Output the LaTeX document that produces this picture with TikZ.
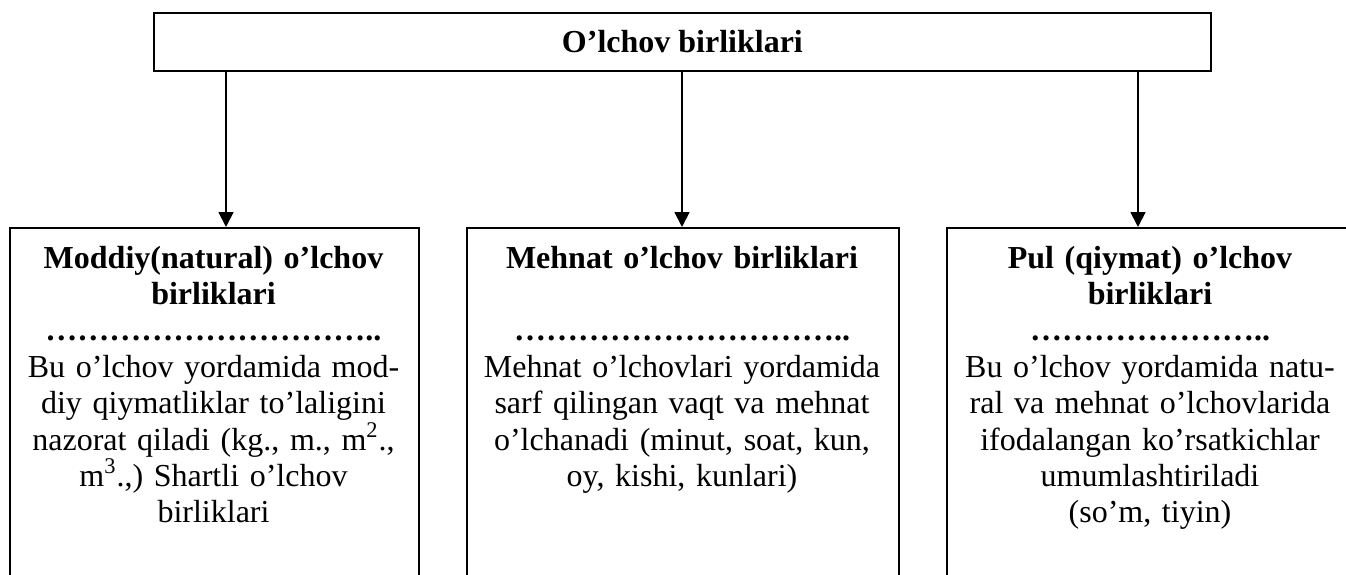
\documentclass[tikz,border=0pt]{standalone}
\usepackage{fontspec}
\setmainfont{Liberation Serif}
\usetikzlibrary{arrows.meta}

\begin{document}
\begin{tikzpicture}[x=0.5pt,y=-0.5pt,
  topbox/.style={draw, line width=0.9pt, inner sep=0pt, anchor=north west,
    font=\fontsize{16pt}{18.2pt}\selectfont\bfseries},
  unitbox/.style={draw, line width=1.2pt, inner sep=0pt, anchor=north west,
    minimum height=196.5pt},
  boxtext/.style={anchor=base, inner sep=0pt, align=center, text width=#1,
    font=\fontsize{16pt}{18.2pt}\selectfont},
  arr/.style={line width=0.9pt, -{Triangle[width=7.5pt,length=7.5pt]}}]
  \useasboundingbox (0,0) rectangle (1346,574);
  \clip (0,0) rectangle (1346,574);

  % heading box
  \node[topbox, minimum width=528.5pt, minimum height=29pt] (top) at (153,12)
    {O’lchov birliklari};

  % the three kinds of units
  \node[unitbox, minimum width=204.5pt] (bl) at (9,227) {};
  \node[unitbox, minimum width=216pt] (bm) at (466,227) {};
  \node[unitbox, minimum width=204pt] (br) at (946,227) {};

  \node[boxtext=200pt] (tl) at (213.5,268) {%
    \textbf{Moddiy(natural) o’lchov}\\
    \textbf{birliklari}\\
    \textbf{…………………………..}\\
    Bu o’lchov yordamida mod-\\
    diy qiymatliklar to’laligini\\
    nazorat qiladi (kg., m., m\textsuperscript{2}.,\\
    m\textsuperscript{3}.,) Shartli o’lchov\\
    birliklari};

  \node[boxtext=212pt] (tm) at (682,268) {%
    \textbf{Mehnat o’lchov birliklari}\\
    ~\\
    \textbf{…………………………..}\\
    Mehnat o’lchovlari yordamida\\
    sarf qilingan vaqt va mehnat\\
    o’lchanadi (minut, soat, kun,\\
    oy, kishi, kunlari)};

  \node[boxtext=200pt] (tr) at (1150,268) {%
    \textbf{Pul (qiymat) o’lchov}\\
    \textbf{birliklari}\\
    \textbf{…………………..}\\
    Bu o’lchov yordamida natu-\\
    ral va mehnat o’lchovlarida\\
    ifodalangan ko’rsatkichlar\\
    umumlashtiriladi\\
    (so’m, tiyin)};

  % connectors
  \coordinate (c1) at (226,0);
  \coordinate (c2) at (682,0);
  \coordinate (c3) at (1138,0);
  \draw[arr] (top.south -| c1) -- (bl.north -| c1);
  \draw[arr] (top.south -| c2) -- (bm.north -| c2);
  \draw[arr] (top.south -| c3) -- (br.north -| c3);
\end{tikzpicture}
\end{document}
